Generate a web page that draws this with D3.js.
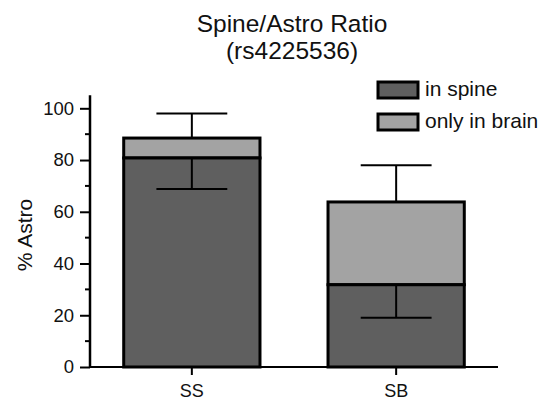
<!DOCTYPE html>
<html><head><meta charset="utf-8">
<script src="https://cdn.jsdelivr.net/npm/d3@7"></script>
<style>body{margin:0;background:#fff}svg{display:block}text{font-family:"Liberation Sans",Arial,sans-serif;fill:#111}</style>
</head><body>
<script>
const categories = ["SS", "SB"];
const inSpine = [80.8, 31.8];
const onlyInBrain = [7.7, 32.0];
const errUp = [9.5, 14.2];
const errDown = [12.0, 12.8];
const yTicks = [0, 20, 40, 60, 80, 100];
const seriesNames = ["in spine", "only in brain"];
const colors = ["#5f5f5f", "#a3a3a3"];

const W = 545, H = 402;
const svg = d3.select("body").append("svg").attr("width", W).attr("height", H);

const x = d3.scaleBand().domain(categories).range([90, 498]).paddingInner(0.333).paddingOuter(0.165);
const y = d3.scaleLinear().domain([0, 100]).range([367, 108.3]);

// title
svg.append("text").attr("x", 292).attr("y", 32).attr("text-anchor", "middle").attr("font-size", 24.5).text("Spine/Astro Ratio");
svg.append("text").attr("x", 292).attr("y", 59).attr("text-anchor", "middle").attr("font-size", 24.5).text("(rs4225536)");

// bars
const g = svg.append("g");
categories.forEach((c, i) => {
  const x0 = x(c), bw = x.bandwidth();
  const total = inSpine[i] + onlyInBrain[i];
  g.append("rect").attr("x", x0).attr("y", y(total)).attr("width", bw).attr("height", y(inSpine[i]) - y(total))
    .attr("fill", colors[1]).attr("stroke", "#000").attr("stroke-width", 3);
  g.append("rect").attr("x", x0).attr("y", y(inSpine[i])).attr("width", bw).attr("height", y(0) - y(inSpine[i]))
    .attr("fill", colors[0]).attr("stroke", "#000").attr("stroke-width", 3);
  const cx = x0 + bw / 2, cap = bw * 0.26;
  g.append("line").attr("x1", cx).attr("x2", cx).attr("y1", y(total)).attr("y2", y(total + errUp[i])).attr("stroke", "#000").attr("stroke-width", 2);
  g.append("line").attr("x1", cx - cap).attr("x2", cx + cap).attr("y1", y(total + errUp[i])).attr("y2", y(total + errUp[i])).attr("stroke", "#000").attr("stroke-width", 2);
  g.append("line").attr("x1", cx).attr("x2", cx).attr("y1", y(inSpine[i])).attr("y2", y(inSpine[i] - errDown[i])).attr("stroke", "#000").attr("stroke-width", 2);
  g.append("line").attr("x1", cx - cap).attr("x2", cx + cap).attr("y1", y(inSpine[i] - errDown[i])).attr("y2", y(inSpine[i] - errDown[i])).attr("stroke", "#000").attr("stroke-width", 2);
});

// y axis
const yAxis = svg.append("g").attr("transform", "translate(90,0)")
  .call(d3.axisLeft(y).tickValues(yTicks).tickSize(10).tickSizeOuter(0).tickPadding(6));
yAxis.attr("font-size", 18.5).attr("font-family", "Liberation Sans, Arial, sans-serif");
yAxis.select(".domain").remove();
yAxis.selectAll("line").attr("stroke", "#000").attr("stroke-width", 2);
yAxis.selectAll("text").attr("fill", "#111");
const minor = d3.range(10, 101, 20);
svg.append("g").selectAll("line").data(minor).join("line")
  .attr("x1", 85).attr("x2", 90).attr("y1", d => y(d)).attr("y2", d => y(d)).attr("stroke", "#000").attr("stroke-width", 2);
svg.append("line").attr("x1", 90).attr("x2", 90).attr("y1", y(0) + 1).attr("y2", y(105)).attr("stroke", "#000").attr("stroke-width", 2.5);

// x axis
svg.append("line").attr("x1", 89).attr("x2", 498).attr("y1", y(0)).attr("y2", y(0)).attr("stroke", "#000").attr("stroke-width", 2);
const xAxis = svg.append("g").attr("transform", `translate(0,${y(0)})`)
  .call(d3.axisBottom(x).tickSize(8).tickSizeOuter(0).tickPadding(9));
xAxis.attr("font-size", 18).attr("font-family", "Liberation Sans, Arial, sans-serif");
xAxis.select(".domain").remove();
xAxis.selectAll("line").attr("stroke", "#000").attr("stroke-width", 2);
xAxis.selectAll("text").attr("fill", "#111");

// y label
svg.append("text").attr("transform", "translate(32,235) rotate(-90)").attr("text-anchor", "middle").attr("font-size", 21).text("% Astro");

// legend
const leg = svg.append("g");
seriesNames.forEach((s, i) => {
  const ly = 82 + i * 32;
  leg.append("rect").attr("x", 378).attr("y", ly).attr("width", 40).attr("height", 16)
    .attr("fill", colors[i]).attr("stroke", "#000").attr("stroke-width", 3);
  leg.append("text").attr("x", 425).attr("y", ly + 14).attr("font-size", 21).text(s);
});
</script>
</body></html>
